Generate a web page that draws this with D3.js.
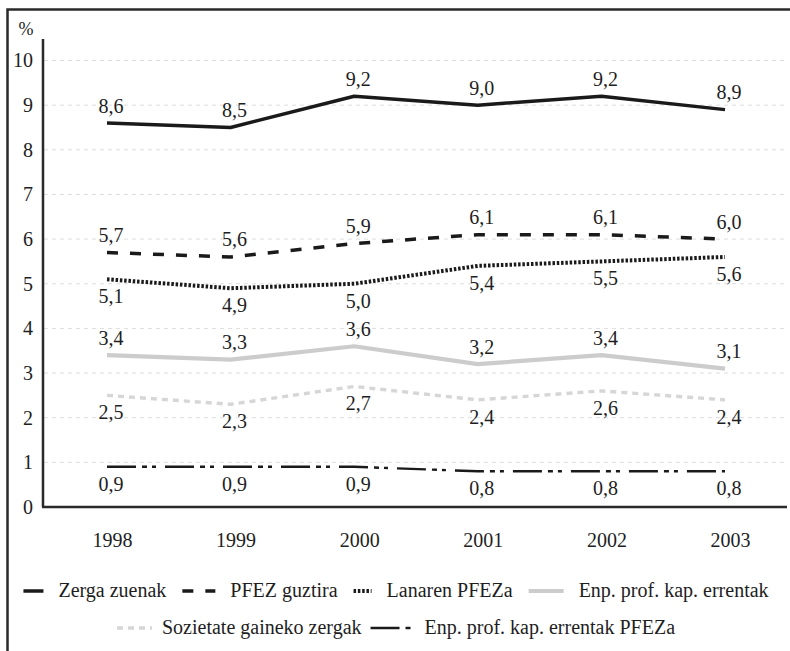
<!DOCTYPE html>
<html><head><meta charset="utf-8">
<script src="https://cdn.jsdelivr.net/npm/d3@7"></script>
<style>html,body{margin:0;padding:0;background:#fff;}svg{display:block;}</style>
</head><body>
<svg id="c" width="790" height="651"></svg>
<script>
const years = ["1998","1999","2000","2001","2002","2003"];
const seriesNames = ["Zerga zuenak","PFEZ guztira","Lanaren PFEZa","Enp. prof. kap. errentak","Sozietate gaineko zergak","Enp. prof. kap. errentak PFEZa"];
const zergaZuenak = [8.6,8.5,9.2,9.0,9.2,8.9];
const pfezGuztira = [5.7,5.6,5.9,6.1,6.1,6.0];
const lanarenPfeza = [5.1,4.9,5.0,5.4,5.5,5.6];
const enpProfKap = [3.4,3.3,3.6,3.2,3.4,3.1];
const sozietate = [2.5,2.3,2.7,2.4,2.6,2.4];
const enpProfKapPfeza = [0.9,0.9,0.9,0.8,0.8,0.8];
const yTicks = [0,1,2,3,4,5,6,7,8,9,10];

const allValues = [zergaZuenak,pfezGuztira,lanarenPfeza,enpProfKap,sozietate,enpProfKapPfeza];
const styles = [
  {color:"#1a1a1a", w:3.5, dash:null, pos:"above", sym:20},
  {color:"#1a1a1a", w:3.5, dash:"11,12", pos:"above", sym:33},
  {color:"#1a1a1a", w:4, dash:"2.5,1.8", pos:"below", sym:18},
  {color:"#cccccc", w:4.2, dash:null, pos:"above", sym:35},
  {color:"#d6d6d6", w:3.4, dash:"6,5", pos:"below", sym:35},
  {color:"#1a1a1a", w:2.4, dash:"29,6,5,5,4,9", pos:"below", sym:44}
];
const series = seriesNames.map((n,i)=>({name:n, values:allValues[i], style:styles[i]}));

const svg = d3.select("#c");
const FF = '"Liberation Serif"';
const fs = 20;
function tx(sel, size){ return sel.style("font-family",FF).style("font-size",(size||fs)+"px").style("fill","#1e1e1e"); }

// frame
svg.append("rect").attr("x",7.5).attr("y",9.5).attr("width",820).attr("height",700)
  .attr("fill","none").attr("stroke","#2a2a2a").attr("stroke-width",2.5);

const x = d3.scalePoint().domain(years).range([107,725]);
const y = d3.scaleLinear().domain([0,10]).range([507,60.5]);

// gridlines
svg.append("g").selectAll("line").data(yTicks.filter(d=>d>0)).join("line")
  .attr("x1",44).attr("x2",787).attr("y1",d=>y(d)).attr("y2",d=>y(d))
  .attr("stroke","#dddddd").attr("stroke-width",1).attr("stroke-dasharray","4,4");

// y axis
const yAxis = d3.axisLeft(y).tickValues(yTicks).tickSize(0).tickPadding(10).tickFormat(d3.format("d"));
const gy = svg.append("g").attr("transform","translate(43,0)").call(yAxis);
gy.select(".domain").remove();
tx(gy.selectAll("text"));
svg.append("line").attr("x1",43).attr("x2",43).attr("y1",39).attr("y2",507)
  .attr("stroke","#2a2a2a").attr("stroke-width",2.5);

// x axis
const xAxis = d3.axisBottom(x).tickSize(0).tickPadding(26);
const gx = svg.append("g").attr("transform","translate(5,507)").call(xAxis);
gx.select(".domain").remove();
tx(gx.selectAll("text"));
svg.append("line").attr("x1",42).attr("x2",787).attr("y1",507).attr("y2",507)
  .attr("stroke","#2a2a2a").attr("stroke-width",2.5);

// % label
tx(svg.append("text").attr("x",26).attr("y",35).attr("text-anchor","middle"),18).text("%");

// lines
const line = d3.line().x((d,i)=>x(years[i])).y(d=>y(d));
series.forEach(s=>{
  svg.append("path").datum(s.values).attr("d",line).attr("fill","none")
    .attr("stroke",s.style.color).attr("stroke-width",s.style.w)
    .attr("stroke-dasharray",s.style.dash).attr("stroke-linejoin","round");
});

// value labels
const fmt = v => d3.format(".1f")(v).replace(".",",");
series.forEach(s=>{
  tx(svg.append("g").selectAll("text").data(s.values).join("text")
    .attr("x",(d,i)=>x(years[i])+4)
    .attr("y",d=>y(d) + (s.style.pos==="above" ? -10.5 : 24))
    .attr("text-anchor","middle"))
    .text(fmt);
});

// legend
const rows = [[0,1,2,3],[4,5]];
const rowY = [591,628];
const gapSymText = [15,10], gapTextSym = [16,9], center = 396;
rows.forEach((row,ri)=>{
  const g = svg.append("g");
  let cx = 0;
  row.forEach(idx=>{
    const s = series[idx];
    g.append("line").attr("x1",cx).attr("x2",cx+s.style.sym).attr("y1",rowY[ri]).attr("y2",rowY[ri])
      .attr("stroke",s.style.color).attr("stroke-width",s.style.w).attr("stroke-dasharray",s.style.dash);
    cx += s.style.sym + gapSymText[ri];
    const t = tx(g.append("text").attr("x",cx).attr("y",rowY[ri]+5.5)).text(s.name);
    cx += t.node().getComputedTextLength() + gapTextSym[ri];
  });
  const total = cx - gapTextSym[ri];
  g.attr("transform",`translate(${center-total/2},0)`);
});
</script>
</body></html>
